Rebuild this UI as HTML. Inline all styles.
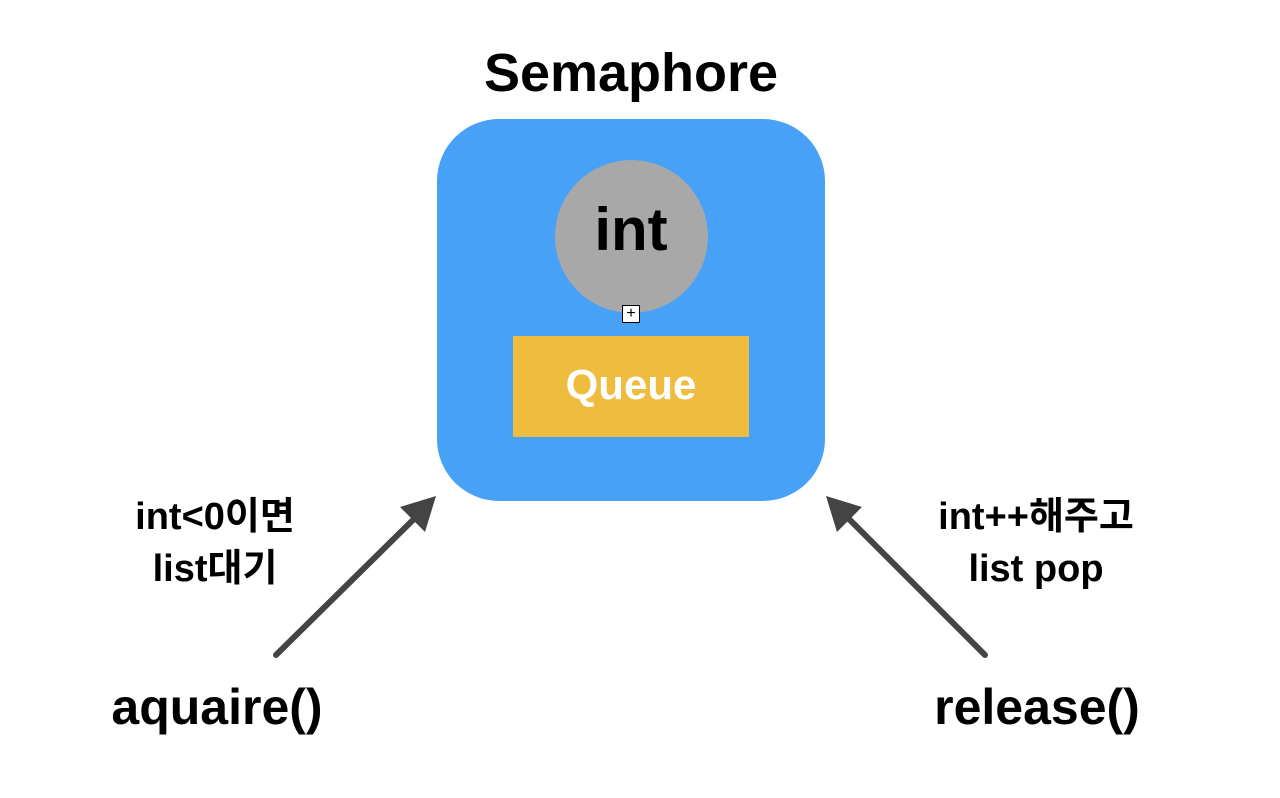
<!DOCTYPE html>
<html><head><meta charset="utf-8"><style>
body{margin:0;width:1280px;height:798px;background:#fff;position:relative;overflow:hidden;font-family:"Liberation Sans","Noto Sans CJK KR",sans-serif;font-weight:bold}
.t{position:absolute;text-align:center;white-space:nowrap;line-height:1}
</style></head><body>
<div class="t" style="left:431px;width:400px;top:46px;font-size:54px;">Semaphore</div>
<div style="position:absolute;left:437px;top:119px;width:388px;height:382px;background:#47a1f7;border-radius:62px"></div>
<div style="position:absolute;left:555px;top:160px;width:153px;height:153px;background:#a8a8a8;border-radius:50%"></div>
<div class="t" style="left:531px;width:200px;top:200px;font-size:60px;">int</div>
<div style="position:absolute;left:622px;top:305px;width:16px;height:16px;border:1px solid #000;background:#fff;font-size:16px;line-height:16px;text-align:center;font-weight:normal">+</div>
<div style="position:absolute;left:513px;top:336px;width:236px;height:101px;background:#eebc3e"></div>
<div class="t" style="left:513px;width:236px;top:364px;font-size:42px;color:#fff">Queue</div>
<div class="t" style="left:65px;width:300px;top:498px;font-size:38px;">int&lt;0이면</div>
<div class="t" style="left:65px;width:300px;top:550px;font-size:38px;">list대기</div>
<div class="t" style="left:67px;width:300px;top:682px;font-size:50px;">aquaire()</div>
<div class="t" style="left:886px;width:300px;top:498px;font-size:38px;">int++해주고</div>
<div class="t" style="left:886px;width:300px;top:550px;font-size:38px;">list pop</div>
<div class="t" style="left:887px;width:300px;top:682px;font-size:50px;">release()</div>
<svg width="1280" height="798" style="position:absolute;left:0;top:0">
<g stroke="#444" stroke-width="6" stroke-linecap="round">
<line x1="276" y1="655" x2="418" y2="515"/>
<line x1="985" y1="655" x2="845" y2="515"/>
</g>
<polygon points="436,496 400,507 425,532" fill="#444"/>
<polygon points="826,496 862,507 837,532" fill="#444"/>
</svg>
</body></html>
